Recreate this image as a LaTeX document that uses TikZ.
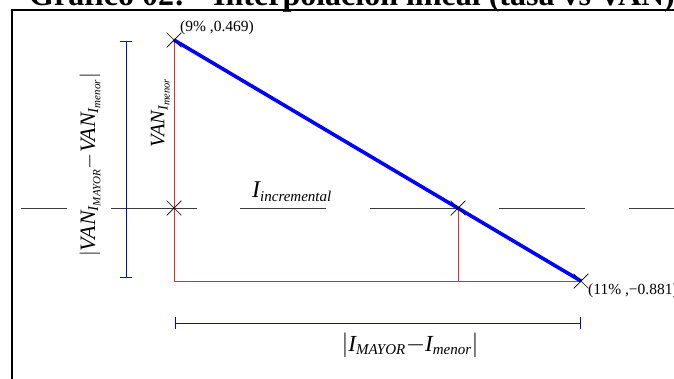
\documentclass[tikz,border=0pt]{standalone}
\usepackage{amsmath}
\usepackage{fontspec}
\setmainfont{Liberation Serif}
\usetikzlibrary{arrows.meta, shapes.misc}
\definecolor{VanBlue}{HTML}{0000FF}
\definecolor{GuideRed}{HTML}{FF2020}
\definecolor{GuideGray}{HTML}{3A3A3A}
\tikzset{
  crossmark/.style={draw, cross out, minimum size=14pt, inner sep=0pt, line width=0.7pt},
  guidered/.style={draw=GuideRed, line width=0.9pt},
  vanline/.style={draw=VanBlue, line width=3.6pt},
  dimline/.style={draw=VanBlue, line width=0.9pt, {Bar[width=12pt]}-{Bar[width=12pt]}},
  refline/.style={draw=GuideGray, line width=1pt, dash pattern=on 86pt off 43.5pt, dash phase=40pt},
  pointlabel/.style={font=\fontsize{15.5}{17}\selectfont, inner sep=1pt},
  mathlabel/.style={font=\fontsize{22}{26}\selectfont, inner sep=1pt},
  titlefont/.style={font=\fontsize{32}{34}\selectfont\bfseries, inner sep=0pt, anchor=base west}
}
\newcommand{\vt}[1]{\textit{#1}}
\newcommand{\sbA}[1]{\text{\fontsize{15}{16}\selectfont\itshape #1}}
\newcommand{\sbB}[1]{\text{\fontsize{11}{12}\selectfont\itshape #1}}
\newcommand{\dminus}{\mathord{-}}

\begin{document}
\begin{tikzpicture}[x=1pt, y=-1pt]
  \useasboundingbox (0,0) rectangle (674,378);
  % titulo (cortado arriba) y marco
  \node[titlefont] (title) at (29,5) {Gráfico 02:};
  \node[titlefont] (titlerest) at (213,5) {Interpolación lineal (tasa vs VAN)};
  \draw[line width=2.6pt] (12,390) -- (12,10) -- (690,10);

  % puntos
  \coordinate (ptA) at (174,40);
  \coordinate (ptM) at (174,208);
  \coordinate (ptC) at (458,208);
  \coordinate (ptB) at (581,281);
  \coordinate (corner) at (ptA |- ptB);
  \coordinate (refL) at (21,208);
  \coordinate (refR) at (674,208);

  \draw[refline] (refL) -- (refR);
  \draw[guidered] (ptA) -- (corner) -- (ptB);
  \draw[guidered] (ptC) -- (ptC |- corner);
  \draw[vanline] (ptA) -- (ptB);

  \node[crossmark] (xA) at (ptA) {};
  \node[crossmark] (xM) at (ptM) {};
  \node[crossmark] (xC) at (ptC) {};
  \node[crossmark] (xB) at (ptB) {};

  % cotas
  \coordinate (dimT) at (126,41);
  \coordinate (dimB) at (126,278);
  \coordinate (dimL) at (175,323);
  \coordinate (dimR) at (581,323);
  \draw[dimline] (dimT) -- (dimB);
  \draw[dimline] (dimL) -- (dimR);

  % etiquetas
  \node[pointlabel] (labA) at (217,28) {(9\% ,0.469)};
  \node[pointlabel, anchor=west] (labB) at (587,291) {(11\% ,−0.881)};
  \node[mathlabel, font=\fontsize{20.5}{24}\selectfont, rotate=90, anchor=south west] (vanmenor) at (171,149)
    {$\vt{VAN}_{\text{\fontsize{14}{15}\selectfont\itshape I}_{\text{\fontsize{10.5}{11}\selectfont\itshape menor}}}$};
  \node[mathlabel, rotate=90] (vandiff) at (90,165)
    {$\left|\vt{VAN}_{\sbA{I}_{\sbB{MAYOR}}}\dminus\vt{VAN}_{\sbA{I}_{\sbB{menor}}}\right|$};
  \node[mathlabel, font=\fontsize{24}{28}\selectfont] (incr) at (292,192) {$\vt{I}_{\sbA{incremental}}$};
  \node[mathlabel, font=\fontsize{23}{27}\selectfont] (idiff) at (410,345)
    {$\left|\vt{I}_{\sbA{MAYOR}}\dminus\vt{I}_{\sbA{menor}}\right|$};
\end{tikzpicture}
\end{document}
